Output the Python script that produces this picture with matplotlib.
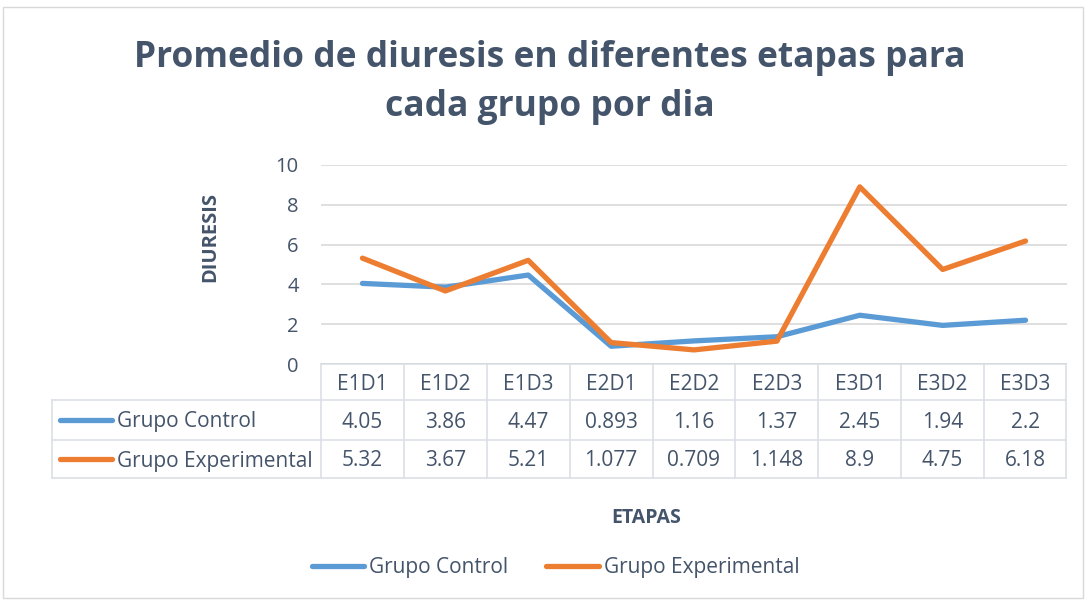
import matplotlib
matplotlib.use("Agg")
import matplotlib.pyplot as plt
from matplotlib.lines import Line2D
from matplotlib.patches import Rectangle

categories = ["E1D1", "E1D2", "E1D3", "E2D1", "E2D2", "E2D3", "E3D1", "E3D2", "E3D3"]
control = [4.05, 3.86, 4.47, 0.893, 1.16, 1.37, 2.45, 1.94, 2.2]
experimental = [5.32, 3.67, 5.21, 1.077, 0.709, 1.148, 8.9, 4.75, 6.18]
control_labels = ["4.05", "3.86", "4.47", "0.893", "1.16", "1.37", "2.45", "1.94", "2.2"]
experimental_labels = ["5.32", "3.67", "5.21", "1.077", "0.709", "1.148", "8.9", "4.75", "6.18"]
series_names = ["Grupo Control", "Grupo Experimental"]
yticks = [0, 2, 4, 6, 8, 10]

BLUE = "#5B9BD5"
ORANGE = "#ED7D31"
TXT = "#44546A"
GRID = "#D9D9D9"
TBL = "#DCE0E6"
FONT = "Open Sans"

W, H = 1086, 601
fig = plt.figure(figsize=(W / 100, H / 100), dpi=100)

# pixel layout
ax_l, ax_r, ax_t, ax_b = 321, 1067, 165, 364
ax = fig.add_axes([ax_l / W, 1 - ax_b / H, (ax_r - ax_l) / W, (ax_b - ax_t) / H])
x = list(range(len(categories)))
ax.plot(x, control, color=BLUE, lw=3.8, solid_capstyle="round", solid_joinstyle="round", zorder=3)
ax.plot(x, experimental, color=ORANGE, lw=3.8, solid_capstyle="round", solid_joinstyle="round", zorder=4)
ax.set_xlim(-0.5, len(categories) - 0.5)
ax.set_ylim(0, 10)
ax.set_yticks(yticks)
ax.set_yticklabels([str(t) for t in yticks], fontsize=14.5, color=TXT, family=FONT)
ax.set_xticks([])
ax.tick_params(axis="y", length=0, pad=16)
for s in ax.spines.values():
    s.set_visible(False)
ax.grid(axis="y", color=GRID, lw=1.2)
ax.set_axisbelow(True)
ax.patch.set_alpha(0)

# overlay in pixel coordinates
ov = fig.add_axes([0, 0, 1, 1], zorder=-1)
ov.set_xlim(0, W)
ov.set_ylim(H, 0)
ov.axis("off")

ov.add_patch(Rectangle((3, 7), W - 6, H - 10, fill=False, ec="#D9D9D9", lw=1))

ov.text(550, 58, "Promedio de diuresis en diferentes etapas para", ha="center", va="center",
        fontsize=25.5, fontweight="bold", color=TXT, family=FONT)
ov.text(550, 107, "cada grupo por dia", ha="center", va="center",
        fontsize=25.5, fontweight="bold", color=TXT, family=FONT)
ov.text(210, 237, "DIURESIS", rotation=90, ha="center", va="center",
        fontsize=14.5, fontweight="bold", color=TXT, family=FONT)
ov.text(646, 518, "ETAPAS", ha="center", va="center",
        fontsize=14, fontweight="bold", color=TXT, family=FONT)

# data table
tl, tr = 52, ax_r - 1
rows_y = [364, 400, 440, 478]
n = len(categories)
cw = (ax_r - ax_l) / n
ov.plot([ax_l, tr], [rows_y[0]] * 2, color=TBL, lw=1.2)
for yy in rows_y[1:]:
    ov.plot([tl, tr], [yy, yy], color=TBL, lw=1.2)
ov.plot([tl, tl], [rows_y[1], rows_y[3]], color=TBL, lw=1.2)
for i in range(n + 1):
    xx = ax_l + i * cw
    if i == n:
        xx = tr
    ov.plot([xx, xx], [rows_y[0], rows_y[3]], color=TBL, lw=1.2)

fs = 15
dy = 2
for i, c in enumerate(categories):
    cx = ax_l + (i + 0.5) * cw
    ov.text(cx, (rows_y[0] + rows_y[1]) / 2 + dy, c, ha="center", va="center", fontsize=fs, color=TXT, family=FONT)
    ov.text(cx, (rows_y[1] + rows_y[2]) / 2 + dy, control_labels[i], ha="center", va="center", fontsize=fs, color=TXT, family=FONT)
    ov.text(cx, (rows_y[2] + rows_y[3]) / 2 + dy, experimental_labels[i], ha="center", va="center", fontsize=fs, color=TXT, family=FONT)

for k, (name, col) in enumerate(zip(series_names, [BLUE, ORANGE])):
    yy = (rows_y[k + 1] + rows_y[k + 2]) / 2
    ov.add_line(Line2D([60, 112], [yy, yy], color=col, lw=3.8, solid_capstyle="round"))
    ov.text(117, yy + dy, name, ha="left", va="center", fontsize=fs, color=TXT, family=FONT)

# legend
leg_pos = [(312, 364), (546, 599)]
for (x0, x1), name, col in zip(leg_pos, series_names, [BLUE, ORANGE]):
    ov.add_line(Line2D([x0, x1], [566, 566], color=col, lw=3.8, solid_capstyle="round"))
    ov.text(x1 + 5, 566 + dy, name, ha="left", va="center", fontsize=fs, color=TXT, family=FONT)

fig.savefig("out.png", dpi=100)
